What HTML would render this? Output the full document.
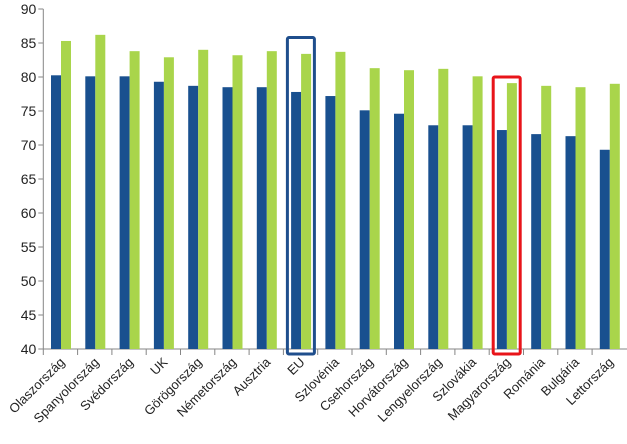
<!DOCTYPE html>
<html><head><meta charset="utf-8"><style>
body{margin:0;background:#fff}
svg{display:block;font-family:"Liberation Sans",sans-serif}
</style></head><body>
<svg id="chart" width="627" height="444" viewBox="0 0 627 444"></svg>
<script>
const categories=["Olaszország","Spanyolország","Svédország","UK","Görögország","Németország","Ausztria","EU","Szlovénia","Csehország","Horvátország","Lengyelország","Szlovákia","Magyarország","Románia","Bulgária","Lettország"];
const seriesBlue=[80.25,80.1,80.1,79.3,78.7,78.5,78.5,77.8,77.2,75.1,74.6,72.9,72.9,72.2,71.6,71.3,69.3];
const seriesGreen=[85.3,86.2,83.8,82.9,84.0,83.2,83.8,83.4,83.7,81.3,81.0,81.2,80.1,79.1,78.7,78.5,79.0];
const yTicks=[40,45,50,55,60,65,70,75,80,85,90];
const highlightEU="EU";
const highlightHU="Magyarország";

const NS="http://www.w3.org/2000/svg";
const svg=document.getElementById('chart');
const x0=43.3, band=34.3, yBase=349, yTop=9, vMin=40, vMax=90;
const y=v=>yBase-(v-vMin)*(yBase-yTop)/(vMax-vMin);
const xb=i=>x0+i*band;
function mk(t,a){const e=document.createElementNS(NS,t);for(const k in a)e.setAttribute(k,a[k]);svg.appendChild(e);return e;}

let e=mk('line',{x1:x0,y1:yTop,x2:x0,y2:yBase,stroke:'#868686','stroke-width':1});


yTicks.forEach(v=>{
  let t=mk('line',{x1:x0-5,y1:y(v),x2:x0,y2:y(v),stroke:'#868686'});
  
  
  let l=mk('text',{x:x0-7,y:y(v)+5,'text-anchor':'end','font-size':14,fill:'#222'});
  l.textContent=v;
  
  
});
e=mk('line',{x1:x0,y1:yBase,x2:627,y2:yBase,stroke:'#868686'});


categories.forEach((c,i)=>{
  let t=mk('line',{x1:xb(i),y1:yBase,x2:xb(i),y2:yBase+6,stroke:'#868686'});
  
  
  const bx=xb(i)+7.7;
  let b=mk('rect',{x:bx,y:y(seriesBlue[i]),width:10,height:yBase-y(seriesBlue[i]),fill:'#19508F'});
  
  
  let g=mk('rect',{x:bx+10,y:y(seriesGreen[i]),width:10,height:yBase-y(seriesGreen[i]),fill:'#A9D54B'});
  
  
  const cx=xb(i)+band/2+5;
  let l=mk('text',{x:cx,y:yBase+14,'text-anchor':'end','font-size':13,fill:'#222',transform:`rotate(-45 ${cx} ${yBase+14})`});
  l.textContent=c;
  
  
});
function box(name,color,top){
  const i=categories.indexOf(name);
  const top2=y(Math.max(seriesBlue[i],seriesGreen[i])+top);
  let r=mk('rect',{x:xb(i)+4,y:top2,width:27,height:yBase+5-top2,fill:'none',stroke:color,'stroke-width':3,rx:1.5});
  return r;
}
let r1=box(highlightEU,'#1F4E8C',2.4);


let r2=box(highlightHU,'#E8141A',0.9);


</script>
</body></html>
